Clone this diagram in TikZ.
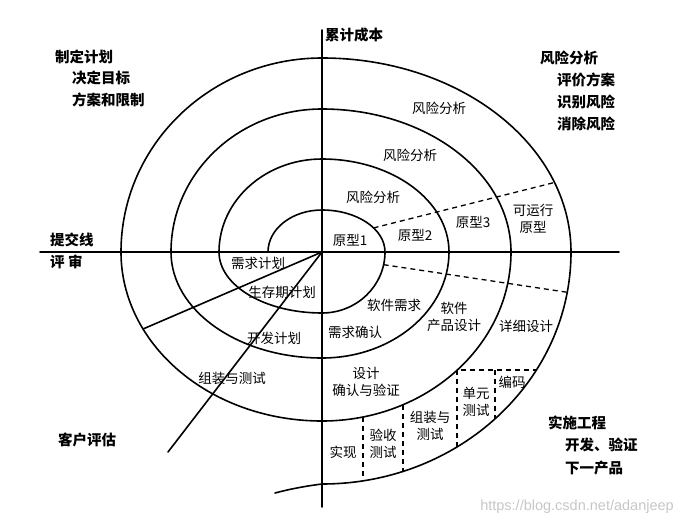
\documentclass[tikz,border=0pt]{standalone}
\usepackage{fontspec}
\newfontfamily\cjk{Noto Sans CJK SC}
\newfontfamily\wmfont{Liberation Sans}

\begin{document}
\begin{tikzpicture}[x=1pt,y=1pt,line cap=round,line join=round,
  lbl/.style={font=\cjk\fontsize{13.5}{17}\selectfont,align=center,inner sep=0pt},
  head/.style={font=\cjk\bfseries\fontsize{14.5}{18}\selectfont,anchor=west,inner sep=0pt},
  solid line/.style={line width=1.6pt},
  dashline/.style={line width=1.3pt,dash pattern=on 5pt off 4pt,line cap=butt}]
  \useasboundingbox (-322,-273) rectangle (370,252);
  \coordinate (o) at (0,0);
  % axes
  \draw[solid line] (-282,0) -- (297,0);
  \draw[solid line] (0,222) -- (0,-255);
  % spiral, one quarter ellipse per quadrant
  \draw[solid line] (-54,0)
    \foreach \l/\t/\r/\b/\n in {54/42/63/61/103,103/93/127/106/151,151/143/189/169/201} {
      arc[start angle=180,end angle=90,x radius=\l,y radius=\t]
      arc[start angle=90,end angle=0,x radius=\r,y radius=\t]
      arc[start angle=360,end angle=270,x radius=\r,y radius=\b]
      arc[start angle=270,end angle=180,x radius=\n,y radius=\b]
    }
    arc[start angle=180,end angle=90,x radius=201,y radius=194]
    arc[start angle=90,end angle=0,x radius=249,y radius=194]
    arc[start angle=360,end angle=270,x radius=249,y radius=232]
    .. controls (-16,-234) and (-32,-237) .. (-47,-241);
  % review lines
  \coordinate (rv1) at (-179,-77);
  \coordinate (rv2) at (-154,-200);
  \draw[solid line] (o) -- (rv1);
  \draw[solid line] (o) -- (rv2);
  % dashed separators
  \coordinate (pa) at ({63*cos(35)},{42*sin(35)});
  \coordinate (pb) at ({249*cos(21)},{194*sin(21)});
  \coordinate (qa) at ({63*cos(-12)},{61*sin(-12)});
  \coordinate (qb) at ({249*cos(-10)},{232*sin(-10)});
  \draw[dashline] (pa) -- (pb);
  \draw[dashline] (qa) -- (qb);
  \coordinate (b1t) at (41,-165);  \coordinate (b1b) at (41,-229);
  \coordinate (b2t) at (81,-153);  \coordinate (b2b) at (81,-219);
  \coordinate (b3t) at (135,-118); \coordinate (b3b) at (135,-195);
  \coordinate (b4t) at (173,-118); \coordinate (b4b) at (173,-167);
  \coordinate (b5) at (214,-118);
  \draw[dashline] (b1t) -- (b1b);
  \draw[dashline] (b2t) -- (b2b);
  \draw[dashline] (b3b) -- (b3t) -- (b5);
  \draw[dashline] (b4t) -- (b4b);
  % quadrant headings
  \node[head] (cost) at (3,217) {累计成本};
  \node[head] (plan) at (-267,195) {制定计划};
  \node[head] (goal) at (-250,174) {决定目标};
  \node[head] (limit) at (-250,152) {方案和限制};
  \node[head] (risk) at (218,194) {风险分析};
  \node[head] (eval) at (235,172) {评价方案};
  \node[head] (ident) at (235,150) {识别风险};
  \node[head] (elim) at (235,128) {消除风险};
  \node[head] (commit) at (-272,12) {提交线};
  \node[head] (review) at (-272,-10) {评\ 审};
  \node[head] (client) at (-264,-188) {客户评估};
  \node[head] (impl) at (226,-171) {实施工程};
  \node[head] (dev) at (243,-193) {开发、验证};
  \node[head] (next) at (243,-216) {下一产品};
  % spiral labels
  \node[lbl] (ra1) at (117,144) {风险分析};
  \node[lbl] (ra2) at (88,97) {风险分析};
  \node[lbl] (ra3) at (51,55) {风险分析};
  \node[lbl] (pt1) at (28,12) {原型1};
  \node[lbl] (pt2) at (93,17) {原型2};
  \node[lbl] (pt3) at (151,30) {原型3};
  \node[lbl] (pt4) at (211,33) {可运行\\原型};
  \node[lbl] (reqp) at (-64,-11) {需求计划};
  \node[lbl] (lifep) at (-40,-40) {生存期计划};
  \node[lbl] (devp) at (-48,-86) {开发计划};
  \node[lbl] (intp) at (-90,-126) {组装与测试};
  \node[lbl] (swreq) at (72,-53) {软件需求};
  \node[lbl] (reqv) at (33,-80) {需求确认};
  \node[lbl] (prod) at (132,-65) {软件\\产品设计};
  \node[lbl] (detail) at (204,-74) {详细设计};
  \node[lbl] (desv) at (44,-130) {设计\\确认与验证};
  \node[lbl] (intt) at (108,-174) {组装与\\测试};
  \node[lbl] (unit) at (154,-150) {单元\\测试};
  \node[lbl] (code) at (190,-130) {编码};
  \node[lbl] (acc) at (61,-192) {验收\\测试};
  \node[lbl] (real) at (21,-200) {实现};
  % watermark
  \node[font=\wmfont\fontsize{14.5}{16}\selectfont,text=black!22,inner sep=0pt] (wm) at (255,-255) {https://blog.csdn.net/adanjeep};
\end{tikzpicture}
\end{document}
